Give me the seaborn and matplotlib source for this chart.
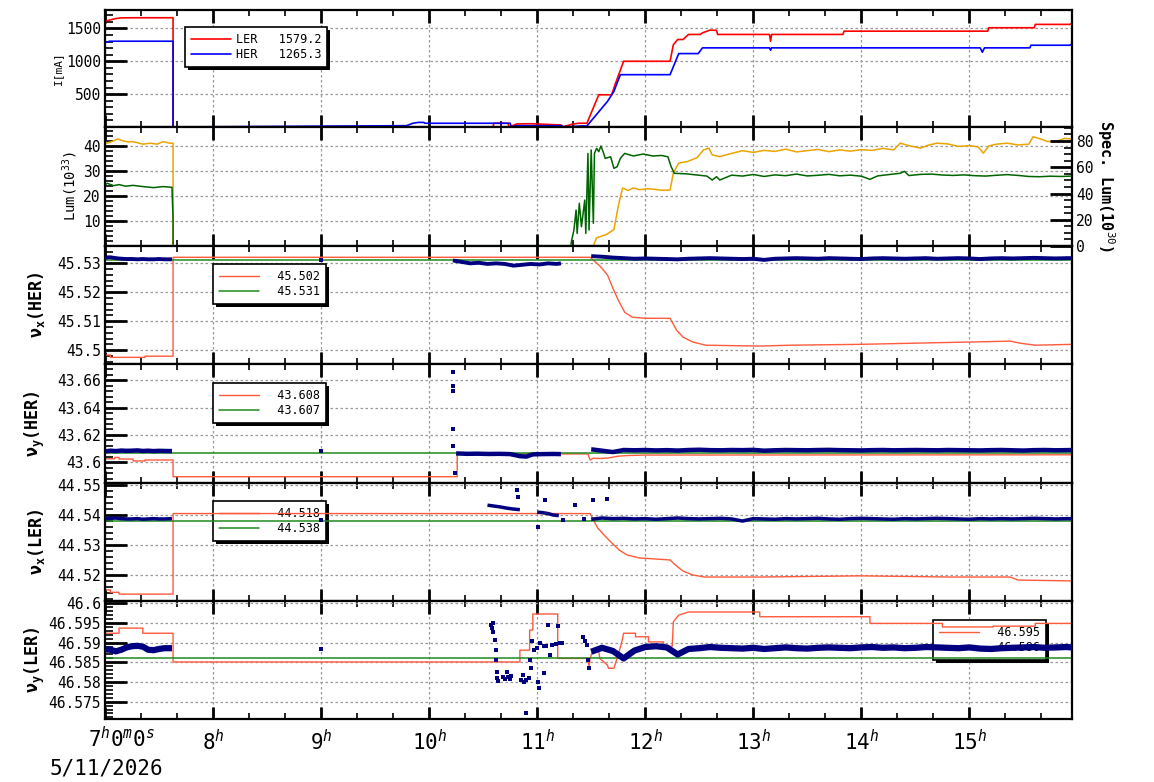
import matplotlib
matplotlib.use('Agg')
import matplotlib.pyplot as plt
from matplotlib.ticker import MultipleLocator, AutoMinorLocator, FuncFormatter
import pandas as pd
import seaborn as sns

# ---------------- beam currents [mA] ----------------
ler_t = [7.00, 7.05, 7.10, 7.15, 7.30, 7.63, 7.63, 10.59, 10.60, 10.73, 10.74, 10.81, 10.94,
         11.22, 11.23, 11.32, 11.38, 11.46, 11.57, 11.69, 11.72, 11.80, 12.23, 12.26, 12.30,
         12.35, 12.40, 12.51, 12.53, 12.60, 12.66, 12.67, 13.15, 13.16, 13.17, 13.83, 13.84,
         15.17, 15.18, 15.60, 15.61, 15.93, 15.95]
ler_i = [1610, 1630, 1650, 1660, 1662, 1662, 0, 0, 57, 57, 0, 46, 50,
         31, 0, 40, 57, 57, 490, 490, 643, 1000, 1000, 1250, 1331,
         1331, 1408, 1408, 1433, 1474, 1470, 1408, 1408, 1305, 1408, 1408, 1458,
         1458, 1510, 1510, 1561, 1561, 1579]
her_t = [7.00, 7.02, 7.04, 7.63, 7.63, 9.79, 9.85, 9.90, 9.95, 9.96, 10.75, 10.76, 10.81,
         11.23, 11.24, 11.41, 11.46, 11.65, 11.71, 11.77, 12.23, 12.31, 12.49, 12.53, 13.15,
         13.16, 13.17, 15.10, 15.12, 15.14, 15.56, 15.57, 15.93, 15.95]
her_i = [1290, 1290, 1305, 1305, 0, 20, 57, 70, 70, 57, 57, 0, 20,
         20, 0, 15, 15, 388, 541, 796, 796, 1117, 1117, 1204, 1204,
         1168, 1204, 1204, 1137, 1204, 1204, 1244, 1244, 1265]
cur_labels = ['LER   1579.2', 'HER   1265.3']

# ---------------- luminosity ----------------
lum_t = [7.00, 7.02, 7.08, 7.12, 7.17, 7.22, 7.26, 7.30, 7.35, 7.42, 7.48, 7.54, 7.60, 7.63, 7.63,
         11.52, 11.55, 11.64, 11.71, 11.75, 11.79, 11.84, 11.89, 11.95, 12.02, 12.08, 12.15,
         12.23, 12.26, 12.31, 12.39, 12.48, 12.54, 12.59, 12.62, 12.69,
         12.80, 12.90, 13.00, 13.10, 13.20, 13.30, 13.40, 13.50, 13.60, 13.70, 13.80, 13.90,
         14.00, 14.10, 14.20, 14.30,
         14.36, 14.45, 14.55, 14.62, 14.70, 14.80, 14.90, 15.00, 15.08, 15.13, 15.18, 15.25,
         15.35, 15.45, 15.55, 15.59, 15.66, 15.72, 15.80, 15.88, 15.95]
lum_v = [41.6, 41.3, 42.2, 43.0, 42.2, 41.8, 41.9, 41.5, 40.9, 41.3, 40.9, 41.9, 41.3, 41.3, 0.0,
         0.0, 3.3, 4.6, 6.6, 15.9, 23.3, 22.3, 23.3, 22.6, 23.0, 22.8, 22.4,
         22.5, 29.3, 33.3, 33.9, 35.5, 38.6, 39.3, 36.6, 35.9,
         37.2, 38.3, 37.6, 38.4, 38.0, 38.9, 37.8, 38.3, 38.8, 37.9, 38.6, 38.1,
         38.7, 38.4, 39.2, 38.6,
         41.3, 40.2, 39.3, 40.5, 41.3, 41.0, 40.0, 40.3, 39.8, 37.3, 40.2, 40.9,
         41.3, 40.6, 40.9, 43.9, 43.0, 42.0, 41.9, 43.2, 43.0]

slum_t = [7.00, 7.02, 7.08, 7.13, 7.19, 7.26, 7.35, 7.45, 7.54, 7.62, 7.63, 7.63, 7.64,
          11.31, 11.32, 11.34, 11.36, 11.37, 11.39, 11.41, 11.44, 11.45, 11.47, 11.48, 11.50,
          11.52, 11.53, 11.55, 11.57, 11.59, 11.61, 11.63,
          11.68, 11.71, 11.74, 11.77, 11.81, 11.89, 11.98, 12.07, 12.15, 12.21, 12.24, 12.27,
          12.38, 12.48, 12.57, 12.62, 12.66, 12.69,
          12.80, 12.90, 13.00, 13.10, 13.20, 13.30, 13.40, 13.50, 13.60, 13.70, 13.80, 13.90, 14.00,
          14.08, 14.15, 14.25, 14.36, 14.40, 14.44,
          14.55, 14.65, 14.75, 14.85, 14.95, 15.05, 15.15, 15.25, 15.35, 15.45, 15.55, 15.65,
          15.75, 15.85, 15.95]
slum_v = [46.5, 47.8, 46.0, 46.8, 45.6, 46.2, 45.3, 44.5, 45.3, 44.7, 19.8, 0.0, 0.0,
          0.0, 4.6, 12.2, 27.4, 9.6, 32.5, 14.7, 35.0, 9.6, 70.6, 12.2, 73.2,
          17.3, 70.6, 74.4, 71.9, 76.2, 71.9, 66.8,
          68.0, 59.2, 60.4, 66.8, 70.6, 68.6, 70.1, 68.6, 69.0, 68.0, 60.4, 55.4,
          55.0, 54.1, 53.3, 50.3, 52.8, 50.3,
          54.0, 53.3, 54.5, 53.0, 54.2, 53.6, 54.8, 53.4, 53.9, 54.6, 53.5, 54.0, 53.2,
          50.8, 53.4, 54.4, 55.4, 56.9, 53.7,
          54.6, 54.8, 54.1, 53.8, 54.2, 53.6, 53.3, 53.9, 54.4, 53.8, 53.0, 52.8,
          53.2, 53.0, 53.3]

# ---------------- tunes ----------------
time_span = [7.0, 15.95]
tune_ref = [45.531, 43.607, 44.538, 46.586]

# common sampling of the measured tunes
seg0_t = [7.00, 7.05, 7.10, 7.15, 7.20, 7.25, 7.30, 7.35, 7.40, 7.45, 7.50, 7.55, 7.62]
band_t = [11.50, 11.60, 11.70, 11.80, 11.90, 12.00, 12.10, 12.20, 12.30, 12.40, 12.50, 12.60,
          12.70, 12.80, 12.90, 13.00, 13.10, 13.20, 13.30, 13.40, 13.50, 13.60, 13.70, 13.80,
          13.90, 14.00, 14.10, 14.20, 14.30, 14.40, 14.50, 14.60, 14.70, 14.80, 14.90, 15.00,
          15.10, 15.20, 15.30, 15.40, 15.50, 15.60, 15.70, 15.80, 15.90, 15.95]

# nu_x HER
nxh_set_t = [7.00, 7.05, 7.05, 7.37, 7.37, 7.63, 7.63, 11.49, 11.58, 11.65, 11.70, 11.75, 11.81,
             11.88, 12.00, 12.23, 12.29, 12.35, 12.44, 12.56, 13.06, 13.34, 13.99, 15.38, 15.47,
             15.61, 15.95]
nxh_set_v = [45.4983, 45.4983, 45.4975, 45.4975, 45.4979, 45.4979, 45.5321, 45.5321, 45.5291,
             45.5260, 45.5215, 45.5173, 45.5131, 45.5114, 45.5110, 45.5110, 45.5069, 45.5045,
             45.5028, 45.5017, 45.5014, 45.5017, 45.5020, 45.5031, 45.5024, 45.5017, 45.5020]
nxh_seg0 = [45.5320, 45.5321, 45.5318, 45.5316, 45.5315, 45.5315, 45.5314, 45.5315, 45.5314,
            45.5314, 45.5315, 45.5314, 45.5314]
nxh_mid_t = [10.22, 10.30, 10.38, 10.46, 10.54, 10.62, 10.70, 10.78, 10.86, 10.94, 11.02, 11.10,
             11.18, 11.22]
nxh_mid_v = [45.5310, 45.5305, 45.5300, 45.5302, 45.5298, 45.5300, 45.5298, 45.5292, 45.5295,
             45.5298, 45.5296, 45.5300, 45.5298, 45.5300]
nxh_band = [45.5325, 45.5323, 45.5320, 45.5318, 45.5316, 45.5317, 45.5316, 45.5315, 45.5314,
            45.5316, 45.5317, 45.5318, 45.5317, 45.5316, 45.5315, 45.5316, 45.5312, 45.5316,
            45.5317, 45.5318, 45.5317, 45.5316, 45.5318, 45.5317, 45.5316, 45.5315, 45.5317,
            45.5318, 45.5317, 45.5316, 45.5317, 45.5318, 45.5316, 45.5317, 45.5318, 45.5317,
            45.5315, 45.5317, 45.5318, 45.5317, 45.5318, 45.5319, 45.5318, 45.5317, 45.5318,
            45.5318]
nxh_dot_t = [9.00]
nxh_dot_v = [45.5310]
nxh_labels = ['  45.502', '  45.531']

# nu_y HER
nyh_set_t = [7.00, 7.09, 7.09, 7.13, 7.13, 7.26, 7.26, 7.37, 7.37, 7.63, 7.63, 10.26, 10.26,
             11.47, 11.49, 11.52, 11.58, 11.66, 11.75, 11.85, 12.00, 15.95]
nyh_set_v = [43.6026, 43.6026, 43.6036, 43.6036, 43.6024, 43.6024, 43.6010, 43.6010, 43.6017,
             43.6017, 43.5895, 43.5895, 43.6061, 43.6061, 43.6017, 43.6030, 43.6028, 43.6032,
             43.6045, 43.6050, 43.6053, 43.6055]
nyh_seg0 = [43.6080, 43.6085, 43.6082, 43.6086, 43.6084, 43.6085, 43.6087, 43.6083, 43.6085,
            43.6082, 43.6084, 43.6083, 43.6082]
nyh_mid_t = [10.25, 10.35, 10.45, 10.55, 10.65, 10.75, 10.84, 10.90, 10.96, 11.05, 11.15, 11.22]
nyh_mid_v = [43.6065, 43.6062, 43.6063, 43.6061, 43.6062, 43.6060, 43.6045, 43.6042, 43.6058,
             43.6060, 43.6061, 43.6060]
nyh_band = [43.6095, 43.6085, 43.6075, 43.6090, 43.6088, 43.6090, 43.6087, 43.6089, 43.6086,
            43.6090, 43.6092, 43.6089, 43.6088, 43.6090, 43.6089, 43.6091, 43.6085, 43.6088,
            43.6090, 43.6089, 43.6088, 43.6090, 43.6091, 43.6089, 43.6088, 43.6087, 43.6089,
            43.6090, 43.6088, 43.6089, 43.6090, 43.6089, 43.6088, 43.6090, 43.6089, 43.6088,
            43.6087, 43.6089, 43.6090, 43.6088, 43.6086, 43.6089, 43.6090, 43.6088, 43.6089,
            43.6090]
nyh_dot_t = [9.00, 10.22, 10.22, 10.22, 10.22, 10.22, 10.24]
nyh_dot_v = [43.6080, 43.6660, 43.6560, 43.6520, 43.6240, 43.6120, 43.5920]
nyh_labels = ['  43.608', '  43.607']

# nu_x LER
nxl_set_t = [7.00, 7.05, 7.05, 7.13, 7.13, 7.63, 7.63, 11.49, 11.56, 11.62, 11.69, 11.76, 11.83,
             11.94, 12.23, 12.29, 12.35, 12.44, 12.55, 13.06, 13.99, 14.83, 15.38, 15.45, 15.95]
nxl_set_v = [44.5150, 44.5150, 44.5142, 44.5142, 44.5136, 44.5136, 44.5405, 44.5405, 44.5357,
             44.5333, 44.5307, 44.5283, 44.5267, 44.5257, 44.5250, 44.5230, 44.5213, 44.5200,
             44.5193, 44.5193, 44.5197, 44.5193, 44.5193, 44.5183, 44.5180]
nxl_seg0 = [44.5388, 44.5389, 44.5390, 44.5388, 44.5387, 44.5387, 44.5388, 44.5386, 44.5387,
            44.5388, 44.5387, 44.5387, 44.5388]
nxl_mid1_t = [10.54, 10.60, 10.66, 10.72, 10.78, 10.84]
nxl_mid1_v = [44.5433, 44.5430, 44.5427, 44.5423, 44.5420, 44.5418]
nxl_mid2_t = [11.00, 11.05, 11.10, 11.15, 11.20]
nxl_mid2_v = [44.5410, 44.5408, 44.5405, 44.5400, 44.5398]
nxl_band = [44.5386, 44.5390, 44.5388, 44.5389, 44.5387, 44.5388, 44.5386, 44.5388, 44.5390,
            44.5388, 44.5387, 44.5388, 44.5389, 44.5387, 44.5380, 44.5388, 44.5387, 44.5386,
            44.5388, 44.5387, 44.5388, 44.5389, 44.5387, 44.5386, 44.5388, 44.5389, 44.5388,
            44.5387, 44.5386, 44.5388, 44.5387, 44.5388, 44.5389, 44.5388, 44.5387, 44.5386,
            44.5388, 44.5387, 44.5388, 44.5387, 44.5388, 44.5389, 44.5388, 44.5387, 44.5388,
            44.5388]
nxl_dot_t = [9.00, 10.81, 10.82, 11.01, 11.07, 11.24, 11.35, 11.43, 11.52, 11.65]
nxl_dot_v = [44.5383, 44.5483, 44.5460, 44.5360, 44.5450, 44.5383, 44.5433, 44.5388, 44.5450,
             44.5453]
nxl_labels = ['  44.518', '  44.538']

# nu_y LER
nyl_set_t = [7.00, 7.13, 7.13, 7.35, 7.35, 7.63, 7.63, 10.84, 10.84, 10.93, 10.93, 10.96, 10.96,
             11.19, 11.19, 11.47, 11.48, 11.49, 11.51, 11.57, 11.58, 11.65, 11.66, 11.71, 11.72,
             11.78, 11.80, 11.91, 11.91, 12.03, 12.03, 12.17, 12.17, 12.25, 12.26, 12.31, 12.40,
             13.06, 13.06, 14.08, 14.08, 14.75, 14.75, 15.22, 15.22, 15.61, 15.61, 15.95]
nyl_set_v = [46.5924, 46.5924, 46.5937, 46.5937, 46.5924, 46.5924, 46.5851, 46.5851, 46.5881,
             46.5881, 46.5932, 46.5932, 46.5973, 46.5973, 46.5860, 46.5860, 46.5839, 46.5860,
             46.5877, 46.5877, 46.5860, 46.5843, 46.5835, 46.5835, 46.5843, 46.5898, 46.5924,
             46.5924, 46.5915, 46.5915, 46.5902, 46.5902, 46.5891, 46.5891, 46.5953, 46.5970,
             46.5978, 46.5978, 46.5966, 46.5966, 46.5949, 46.5949, 46.5940, 46.5940, 46.5942,
             46.5942, 46.5949, 46.5949]
nyl_seg0 = [46.5883, 46.5882, 46.5878, 46.5882, 46.5888, 46.5891, 46.5892, 46.5890, 46.5882,
            46.5881, 46.5884, 46.5886, 46.5886]
nyl_band = [46.5877, 46.5887, 46.5879, 46.5860, 46.5880, 46.5889, 46.5891, 46.5888, 46.5870,
            46.5884, 46.5886, 46.5889, 46.5887, 46.5886, 46.5885, 46.5887, 46.5884, 46.5886,
            46.5888, 46.5886, 46.5885, 46.5887, 46.5888, 46.5887, 46.5886, 46.5888, 46.5889,
            46.5887, 46.5888, 46.5886, 46.5887, 46.5889, 46.5888, 46.5887, 46.5886, 46.5888,
            46.5885, 46.5884, 46.5886, 46.5887, 46.5888, 46.5889, 46.5887, 46.5888, 46.5889,
            46.5888]
nyl_dot_t = [9.00, 10.57, 10.58, 10.59, 10.59, 10.61, 10.62, 10.62, 10.63, 10.63, 10.64,
             10.68, 10.70, 10.72, 10.73, 10.75, 10.76, 10.85, 10.87, 10.88, 10.90, 10.92, 10.93,
             10.94, 10.95, 10.97, 11.00, 11.01, 11.02, 11.06, 11.03, 11.06, 11.08, 11.10, 11.12,
             11.14, 11.17, 11.19, 11.21, 11.23, 10.90, 11.42, 11.44, 11.46, 11.47, 11.48]
nyl_dot_v = [46.5883, 46.5945, 46.5937, 46.5950, 46.5927, 46.5907, 46.5881, 46.5856, 46.5825,
             46.5810, 46.5803, 46.5813, 46.5808, 46.5825, 46.5813, 46.5808, 46.5815, 46.5805,
             46.5818, 46.5800, 46.5805, 46.5810, 46.5856, 46.5835, 46.5904, 46.5881, 46.5886,
             46.5801, 46.5785, 46.5823, 46.5900, 46.5891, 46.5891, 46.5945, 46.5868, 46.5894,
             46.5897, 46.5942, 46.5900, 46.5900, 46.5722, 46.5914, 46.5904, 46.5894, 46.5856,
             46.5835]
nyl_labels = ['  46.595', '  46.586']

hour_ticks = [7, 8, 9, 10, 11, 12, 13, 14, 15]
hour_labels = ['', '8$^{h}$', '9$^{h}$', '10$^{h}$', '11$^{h}$', '12$^{h}$', '13$^{h}$',
               '14$^{h}$', '15$^{h}$']

SET_COL = '#ff5a3c'
REF_COL = '#1f8a1f'
MEAS_COL = '#000080'

sns.set_theme(style='white')
plt.rcParams['font.family'] = ['DejaVu Sans Mono', 'DejaVu Sans']
plt.rcParams['mathtext.fontset'] = 'custom'
plt.rcParams['mathtext.rm'] = 'DejaVu Sans Mono'
plt.rcParams['mathtext.it'] = 'DejaVu Sans Mono:italic'
plt.rcParams['mathtext.bf'] = 'DejaVu Sans Mono:bold'
for key in ['text.color', 'axes.labelcolor', 'xtick.color', 'ytick.color', 'axes.edgecolor']:
    plt.rcParams[key] = 'black'


def style_axis(ax, bottom_labels=False):
    ax.set_xlim(time_span[0], time_span[1])
    ax.xaxis.set_major_locator(MultipleLocator(1))
    ax.xaxis.set_minor_locator(MultipleLocator(1 / 3))
    ax.yaxis.set_minor_locator(AutoMinorLocator(5))
    ax.tick_params(axis='x', which='major', direction='in', length=9, width=2,
                   top=True, bottom=True, labelbottom=bottom_labels, labelsize=15, pad=7)
    ax.tick_params(axis='x', which='minor', direction='in', length=4, width=1.2,
                   top=True, bottom=True)
    ax.tick_params(axis='y', which='major', direction='in', length=16, width=2,
                   labelsize=10.5, pad=3, left=True)
    ax.tick_params(axis='y', which='minor', direction='in', length=6, width=1.2, left=True)
    ax.grid(True, which='major', color='#999999', linestyle=(0, (2, 2)), linewidth=0.9)
    ax.yaxis.set_major_formatter(FuncFormatter(lambda v, p: f'{v:g}'))
    for s in ax.spines.values():
        s.set_linewidth(1.6)
    ax.set_xlabel('')


def add_legend(ax, x, y, hpad):
    leg = ax.legend(loc='upper left', bbox_to_anchor=(x, y), borderaxespad=0, frameon=True,
                    fancybox=False, edgecolor='black', framealpha=1,
                    shadow={'color': 'black', 'alpha': 1, 'linewidth': 0}, fontsize=8.5,
                    handlelength=3.4, handletextpad=hpad, borderpad=0.5, labelspacing=0.2)
    leg.get_frame().set_linewidth(1.2)
    leg.set_zorder(1.5)


def band_frame(segments):
    parts = [pd.DataFrame({'t': t, 'v': v, 'seg': k}) for k, (t, v) in enumerate(segments)]
    return pd.concat(parts, ignore_index=True)


def draw_tune(ax, set_t, set_v, ref_v, segments, dot_t, dot_v, labels, band_lw, step):
    sns.lineplot(x=set_t, y=set_v, ax=ax, color=SET_COL, lw=1.0, estimator=None, sort=False,
                 label=labels[0], zorder=2)
    sns.lineplot(x=time_span, y=[ref_v, ref_v], ax=ax, color=REF_COL, lw=1.1, estimator=None,
                 sort=False, label=labels[1], zorder=2)
    sns.lineplot(data=band_frame(segments), x='t', y='v', units='seg', estimator=None, sort=False,
                 ax=ax, color=MEAS_COL, lw=band_lw, zorder=3, solid_capstyle='butt')
    sns.scatterplot(x=dot_t, y=dot_v, ax=ax, color=MEAS_COL, marker='s', s=12, linewidth=0,
                    zorder=3)
    ax.yaxis.set_major_locator(MultipleLocator(step))


fig = plt.figure(figsize=(11.54, 7.82), dpi=100)
edges = [10, 127, 246, 364, 483, 601, 719]
axes = []
for k in range(6):
    top, bot = edges[k], edges[k + 1]
    axes.append(fig.add_axes([105 / 1154, 1 - bot / 782, 967 / 1154, (bot - top) / 782]))

# panel 1: currents
ax = axes[0]
sns.lineplot(x=ler_t, y=ler_i, ax=ax, color='#ff0000', lw=1.2, estimator=None, sort=False,
             label=cur_labels[0])
sns.lineplot(x=her_t, y=her_i, ax=ax, color='#0000ff', lw=1.2, estimator=None, sort=False,
             label=cur_labels[1])
ax.set_ylim(0, 1780)
ax.set_yticks([500, 1000, 1500])
style_axis(ax)
ax.set_ylabel('I[mA]', fontsize=8)
ax.yaxis.set_label_coords(-0.043, 0.5)
add_legend(ax, 0.0827, 0.855, 0.4)

# panel 2: luminosity
ax = axes[1]
sns.lineplot(x=lum_t, y=lum_v, ax=ax, color='#eba400', lw=1.1, estimator=None, sort=False)
ax.set_ylim(0, 47.8)
ax.set_yticks([10, 20, 30, 40])
style_axis(ax)
ax.set_ylabel('Lum(10$^{33}$)', fontsize=10)
ax.yaxis.set_label_coords(-0.026, 0.5)
ax2 = ax.twinx()
sns.lineplot(x=slum_t, y=slum_v, ax=ax2, color='#006400', lw=1.1, estimator=None, sort=False)
ax2.set_xlim(time_span[0], time_span[1])
ax2.set_ylim(0, 90.7)
ax2.yaxis.set_major_locator(MultipleLocator(20))
ax2.yaxis.set_minor_locator(AutoMinorLocator(4))
ax2.tick_params(axis='y', which='major', direction='in', length=16, width=2, labelsize=10.5,
                pad=3, right=True)
ax2.tick_params(axis='y', which='minor', direction='in', length=6, width=1.2, right=True)
ax2.grid(False)
ax2.set_ylabel('Spec. Lum(10$^{30}$)', fontsize=11, fontweight='bold', rotation=-90, va='bottom')
ax2.yaxis.set_label_coords(1.024, 0.5)

# tune panels
draw_tune(axes[2], nxh_set_t, nxh_set_v, tune_ref[0],
          [(seg0_t, nxh_seg0), (nxh_mid_t, nxh_mid_v), (band_t, nxh_band)],
          nxh_dot_t, nxh_dot_v, nxh_labels, 2.8, 0.01)
axes[2].set_ylim(45.4952, 45.536)

draw_tune(axes[3], nyh_set_t, nyh_set_v, tune_ref[1],
          [(seg0_t, nyh_seg0), (nyh_mid_t, nyh_mid_v), (band_t, nyh_band)],
          nyh_dot_t, nyh_dot_v, nyh_labels, 3.2, 0.02)
axes[3].set_ylim(43.5849, 43.6718)

draw_tune(axes[4], nxl_set_t, nxl_set_v, tune_ref[2],
          [(seg0_t, nxl_seg0), (nxl_mid1_t, nxl_mid1_v), (nxl_mid2_t, nxl_mid2_v),
           (band_t, nxl_band)],
          nxl_dot_t, nxl_dot_v, nxl_labels, 2.5, 0.01)
axes[4].set_ylim(44.5113, 44.5507)

draw_tune(axes[5], nyl_set_t, nyl_set_v, tune_ref[3],
          [(seg0_t, nyl_seg0), (band_t, nyl_band)],
          nyl_dot_t, nyl_dot_v, nyl_labels, 4.5, 0.005)
axes[5].set_ylim(46.5706, 46.6006)

tune_names = ['ν$_{\\mathbf{x}}$(HER)', 'ν$_{\\mathbf{y}}$(HER)',
              'ν$_{\\mathbf{x}}$(LER)', 'ν$_{\\mathbf{y}}$(LER)']
legend_tops = [0.8475, 0.840, 0.847, 0.839]
for k, ax in enumerate(axes[2:]):
    style_axis(ax, bottom_labels=(k == 3))
    ax.set_ylabel(tune_names[k], fontsize=12, fontweight='bold')
    ax.yaxis.set_label_coords(-0.060, 0.5)
    add_legend(ax, 0.8563 if k == 3 else 0.1117, legend_tops[k], 0.35)

ax = axes[5]
ax.set_xticks(hour_ticks, labels=hour_labels)
ax.annotate('7$^{h}$0$^{m}$0$^{s}$', xy=(hour_ticks[0], 0), xycoords=('data', 'axes fraction'),
            xytext=(12, -5), textcoords='offset points', ha='center', va='top', fontsize=15)
fig.text(106 / 1154, 1 - 768 / 782, '5/11/2026', ha='center', va='center', fontsize=15)

fig.savefig('out.png', dpi=100)
